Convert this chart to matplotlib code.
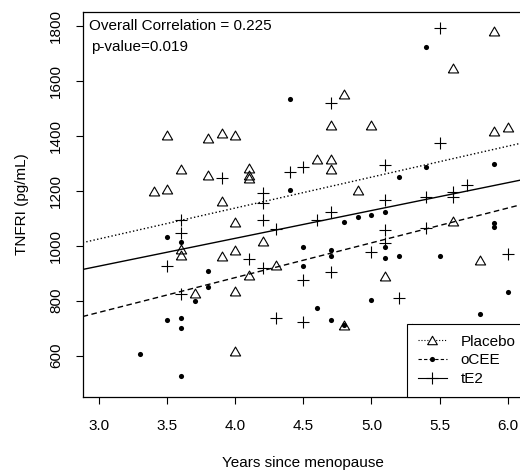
import numpy as np
import matplotlib
matplotlib.use("Agg")
import matplotlib.pyplot as plt
from matplotlib.lines import Line2D

plt.rcParams['font.family'] = ['Liberation Sans', 'DejaVu Sans']

##### data #####

# Placebo (open triangles)
placebo_x = [3.4, 3.5, 3.5, 3.6, 3.6, 3.6, 3.7, 3.8, 3.8, 3.9, 3.9, 3.9, 4.0, 4.0,
             4.0, 4.0, 4.0, 4.1, 4.1, 4.1, 4.1, 4.2, 4.3, 4.6, 4.7, 4.7, 4.7, 4.8,
             4.8, 4.9, 5.0, 5.1, 5.6, 5.6, 5.8, 5.9, 5.9, 6.0]
placebo_y = [1200, 1205, 1402, 1280, 987, 966, 827, 1390, 1257, 1409, 1164, 961, 1402, 1085,
             984, 836, 617, 1281, 1257, 1245, 893, 1018, 930, 1314, 1439, 1314, 1278, 1552,
             712, 1203, 1439, 890, 1645, 1090, 948, 1782, 1418, 1430]

# oCEE (small filled dots)
ocee_x = [3.3, 3.5, 3.5, 3.6, 3.6, 3.6, 3.6, 3.7, 3.8, 3.8, 4.4, 4.4, 4.5, 4.5,
          4.6, 4.7, 4.7, 4.7, 4.8, 4.8, 4.9, 5.0, 5.0, 5.1, 5.1, 5.1, 5.2, 5.2,
          5.3, 5.4, 5.4, 5.5, 5.8, 5.9, 5.9, 5.9, 6.0]
ocee_y = [606, 1033, 729, 1012, 738, 700, 527, 799, 908, 849, 1532, 1203, 996, 927,
          772, 984, 964, 730, 1085, 712, 1105, 1112, 803, 1121, 996, 956, 1249, 963,
          708, 1721, 1287, 964, 752, 1296, 1084, 1067, 833]

# tE2 (plus signs)
te2_x = [3.5, 3.6, 3.6, 3.6, 3.9, 4.1, 4.2, 4.2, 4.2, 4.2, 4.3, 4.3, 4.4, 4.5,
         4.5, 4.5, 4.6, 4.7, 4.7, 4.7, 5.0, 5.1, 5.1, 5.1, 5.1, 5.2, 5.4, 5.4,
         5.5, 5.5, 5.6, 5.6, 5.7, 6.0]
te2_y = [927, 1093, 1047, 823, 1247, 950, 1190, 1154, 1093, 918, 1061, 736, 1267, 1285,
         875, 721, 1092, 1518, 1124, 903, 976, 1292, 1168, 1056, 1009, 809, 1177, 1064,
         1790, 1374, 1196, 1178, 1221, 970]

# fitted lines per group: (intercept, slope)
placebo_fit = (688, 112.3)
ocee_fit = (379, 126.3)
te2_fit = (623, 101.0)

x_ticks = [3.0, 3.5, 4.0, 4.5, 5.0, 5.5, 6.0]
y_ticks = [600, 800, 1000, 1200, 1400, 1600, 1800]

# R style open triangle (equilateral)
tri = [(-1, -0.866), (1, -0.866), (0, 0.866), (-1, -0.866)]

##### plot #####

fig = plt.figure(figsize=(5.2, 4.7), dpi=100)
ax = fig.add_axes([0.159, 0.156, 0.853, 0.8185])

xlim = (2.878, 6.137)
ylim = (451, 1850)

ax.plot(placebo_x, placebo_y, linestyle='none', marker=tri, ms=7.4,
        mfc='none', mec='black', mew=0.8)
ax.plot(ocee_x, ocee_y, linestyle='none', marker='o', ms=3.7,
        mfc='black', mec='black', mew=0)
ax.plot(te2_x, te2_y, linestyle='none', marker='+', ms=8,
        color='black', mew=0.8)

xx = np.array(xlim)
ax.plot(xx, placebo_fit[0] + placebo_fit[1] * xx, color='black', lw=1, linestyle=':')
ax.plot(xx, ocee_fit[0] + ocee_fit[1] * xx, color='black', lw=1, dashes=(4, 2.5))
ax.plot(xx, te2_fit[0] + te2_fit[1] * xx, color='black', lw=1, linestyle='-')

ax.set_xlim(xlim)
ax.set_ylim(ylim)
ax.set_xticks(x_ticks)
ax.set_xticklabels(['%.1f' % t for t in x_ticks])
ax.set_yticks(y_ticks)
ax.set_yticklabels([str(t) for t in y_ticks], rotation=90, va='center')
ax.tick_params(direction='out', length=5, width=0.8, labelsize=11)
ax.tick_params(axis='x', pad=11)
ax.tick_params(axis='y', pad=9)
for s in ax.spines.values():
    s.set_linewidth(0.9)

ax.set_xlabel('Years since menopause', fontsize=11, va='center')
ax.xaxis.set_label_coords(0.497, -0.172)
ax.set_ylabel('TNFRI (pg/mL)', fontsize=11, va='center')
ax.yaxis.set_label_coords(-0.137, 0.5)

ax.text(0.015, 0.9636, 'Overall Correlation = 0.225', transform=ax.transAxes,
        fontsize=11, ha='left', va='center')
ax.text(0.0187, 0.9098, 'p-value=0.019', transform=ax.transAxes,
        fontsize=11, ha='left', va='center')

# legend
handles = [
    Line2D([], [], color='black', lw=0.8, linestyle=':', marker=tri, ms=7,
           mfc='white', mec='black', mew=0.8),
    Line2D([], [], color='black', lw=0.8, dashes=(3, 2), marker='o', ms=3.7,
           mfc='black', mec='black', mew=0),
    Line2D([], [], color='black', lw=0.8, linestyle='-', marker='+', ms=9, mew=0.8),
]
leg = ax.legend(handles, ['Placebo', 'oCEE', 'tE2'], loc='lower right',
                borderaxespad=0, fancybox=False, framealpha=1, edgecolor='black',
                fontsize=11, handlelength=1.9, handletextpad=0.9,
                labelspacing=0.3, borderpad=0.7)
leg.get_frame().set_linewidth(0.8)

plt.savefig('out.png', dpi=100)
